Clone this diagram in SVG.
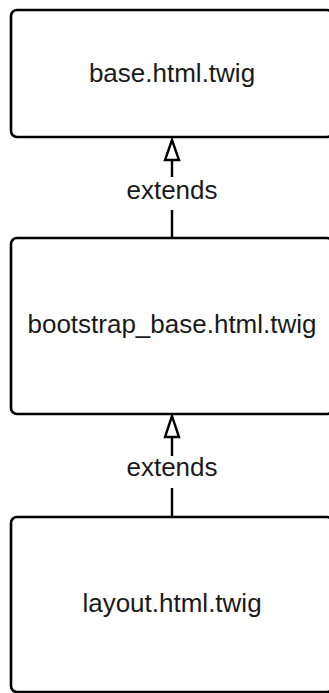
<svg xmlns="http://www.w3.org/2000/svg" width="329" height="693" viewBox="0 0 329 693">
  <style>
    .box { fill: #ffffff; stroke: #000000; stroke-width: 2.6; }
    .label { font-family: "Liberation Sans", Arial, sans-serif; font-size: 26px; fill: #1a1a1a; text-anchor: middle; }
    .edge { fill: none; stroke: #000000; stroke-width: 2.4; }
    .head { fill: #ffffff; stroke: #000000; stroke-width: 2.4; stroke-linejoin: miter; }
  </style>
  <rect width="329" height="693" fill="#ffffff"/>

  <g id="connectors">
    <!-- bootstrap_base extends base -->
    <g id="edge-bootstrap-base">
      <line class="edge" x1="172" y1="238" x2="172" y2="210"/>
      <line class="edge" x1="172" y1="177" x2="172" y2="160"/>
      <polygon class="head" points="172,140 165,160 179,160"/>
      <text class="label" x="172" y="199">extends</text>
    </g>
    <!-- layout extends bootstrap_base -->
    <g id="edge-layout-bootstrap">
      <line class="edge" x1="172" y1="517" x2="172" y2="488"/>
      <line class="edge" x1="172" y1="456" x2="172" y2="437"/>
      <polygon class="head" points="172,416 165,437 179,437"/>
      <text class="label" x="172" y="476">extends</text>
    </g>
  </g>

  <g id="node-base">
    <rect class="box" x="11" y="10" width="322" height="127" rx="6"/>
    <text class="label" x="172" y="82">base.html.twig</text>
  </g>

  <g id="node-bootstrap-base">
    <rect class="box" x="11" y="238" width="322" height="176" rx="6"/>
    <text class="label" x="172" y="333">bootstrap_base.html.twig</text>
  </g>

  <g id="node-layout">
    <rect class="box" x="11" y="517" width="322" height="175" rx="6"/>
    <text class="label" x="172" y="612">layout.html.twig</text>
  </g>
</svg>
